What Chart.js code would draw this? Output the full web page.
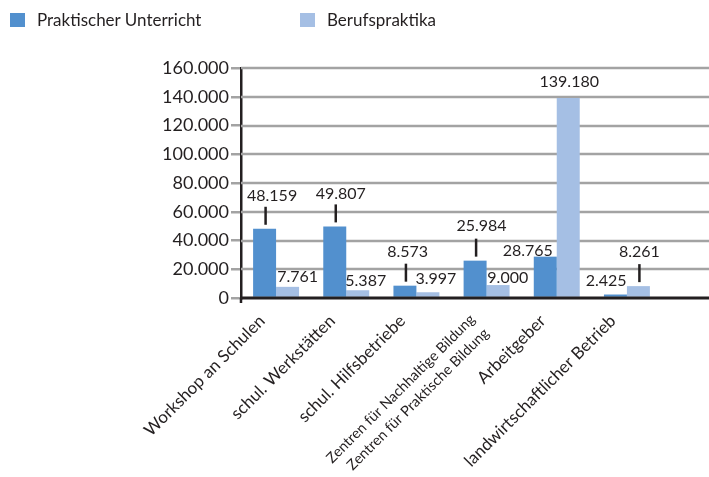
<!DOCTYPE html>
<html>
<head>
<meta charset="utf-8">
<script src="https://cdn.jsdelivr.net/npm/chart.js@4"></script>
<style>
  html, body { margin: 0; padding: 0; background: #fff; }
  #wrap { position: relative; width: 709px; height: 477px; }
  #chart { position: absolute; left: 0; top: 0; }
  .lg { position: absolute; top: 9px; font: 17px Lato, sans-serif; color: #231f20; display: flex; align-items: center; }
  .lg i { display: inline-block; width: 15px; height: 14px; margin-right: 12px; }
</style>
</head>
<body>
<div id="wrap">
  <canvas id="chart" width="709" height="477"></canvas>
  <div class="lg" style="left:10px"><i style="background:#5290ce"></i>Praktischer Unterricht</div>
  <div class="lg" style="left:300px"><i style="background:#a5bfe4"></i>Berufspraktika</div>
</div>
<script>
// Daten
const categories = [
    'Workshop an Schulen',
    'schul. Werkstätten',
    'schul. Hilfsbetriebe',
    ['Zentren für Nachhaltige Bildung', 'Zentren für Praktische Bildung'],
    'Arbeitgeber',
    'landwirtschaftlicher Betrieb'
];
const praktischerUnterricht = [48159, 49807, 8573, 25984, 28765, 2425];
const berufspraktika = [7761, 5387, 3997, 9000, 139180, 8261];
const yTicks = [0, 20000, 40000, 60000, 80000, 100000, 120000, 140000, 160000];

// Label-Verschiebung relativ zur Balkenoberkante: [dx, dy, Linie]
const blueLabelPos = [[7.5, -33, true], [6, -33, true], [2.7, -34, true], [6.4, -34.6, true], [-17.5, -6, false], [-9.3, -13.5, false]];
const lightLabelPos = [[10, -10, false], [8, -9, false], [8, -13, false], [9.7, -7.6, false], [1, -16.3, false], [1, -34, true]];

const BLUE = '#5290ce';
const LIGHT = '#a5bfe4';
const TEXT = '#231f20';
const FONT = 'Lato, sans-serif';

function fmt(v) {
    return String(v).replace(/\B(?=(\d{3})+(?!\d))/g, '.');
}

// Gitterlinien und x-Achse bis zum rechten Rand
const gridPlugin = {
    id: 'gridPlugin',
    beforeDatasetsDraw(chart) {
        const { ctx, chartArea, scales } = chart;
        ctx.save();
        ctx.strokeStyle = '#a3a3a3';
        ctx.lineWidth = 2.5;
        yTicks.forEach(t => {
            if (t === 0) return;
            const y = Math.round(scales.y.getPixelForValue(t));
            ctx.beginPath();
            ctx.moveTo(chartArea.left, y);
            ctx.lineTo(chart.width, y);
            ctx.stroke();
        });
        ctx.restore();
    },
    afterDatasetsDraw(chart) {
        const { ctx, chartArea, scales } = chart;
        const y0 = Math.round(scales.y.getPixelForValue(0));
        ctx.save();
        ctx.strokeStyle = '#231f20';
        ctx.lineWidth = 3;
        ctx.beginPath();
        ctx.moveTo(chartArea.left - 1, y0);
        ctx.lineTo(chart.width, y0);
        ctx.stroke();
        ctx.lineWidth = 2.5;
        ctx.beginPath();
        ctx.moveTo(chartArea.left, y0);
        ctx.lineTo(chartArea.left, y0 + 5);
        ctx.stroke();
        ctx.restore();
    }
};

// Datenbeschriftungen mit Führungslinien
const labelPlugin = {
    id: 'labelPlugin',
    afterDatasetsDraw(chart) {
        const ctx = chart.ctx;
        const posList = [blueLabelPos, lightLabelPos];
        ctx.save();
        ctx.font = '16px ' + FONT;
        ctx.fillStyle = TEXT;
        ctx.strokeStyle = TEXT;
        ctx.lineWidth = 2.5;
        ctx.textAlign = 'center';
        ctx.textBaseline = 'middle';
        chart.data.datasets.forEach((ds, di) => {
            chart.getDatasetMeta(di).data.forEach((bar, i) => {
                const p = posList[di][i];
                ctx.fillText(fmt(ds.data[i]), bar.x + p[0], bar.y + p[1]);
                if (p[2]) {
                    ctx.beginPath();
                    ctx.moveTo(bar.x + 1, bar.y - 4);
                    ctx.lineTo(bar.x + 1, bar.y - 22);
                    ctx.stroke();
                }
            });
        });
        ctx.restore();
    }
};

new Chart(document.getElementById('chart'), {
    type: 'bar',
    data: {
        labels: categories,
        datasets: [
            { label: 'Praktischer Unterricht', data: praktischerUnterricht, backgroundColor: BLUE },
            { label: 'Berufspraktika', data: berufspraktika, backgroundColor: LIGHT }
        ]
    },
    options: {
        responsive: false,
        animation: false,
        categoryPercentage: 0.655,
        barPercentage: 1,
        layout: { padding: { left: 0, top: 68, right: 47, bottom: 0 } },
        plugins: {
            legend: { display: false },
            tooltip: { enabled: false }
        },
        scales: {
            x: {
                grid: { display: false },
                border: { display: false },
                ticks: {
                    color: TEXT,
                    maxRotation: 45,
                    minRotation: 45,
                    autoSkip: false,
                    padding: 4,
                    labelOffset: -14,
                    font: ctx => ({ family: FONT, size: ctx.index === 3 ? 14.5 : 17, lineHeight: 1.35 })
                },
                afterFit: scale => { scale.height = 179; }
            },
            y: {
                min: 0,
                max: 160000,
                afterBuildTicks: scale => { scale.ticks = yTicks.map(v => ({ value: v })); },
                grid: { drawOnChartArea: false, drawTicks: true, tickLength: 10, color: '#a3a3a3', lineWidth: 2.5 },
                border: { display: true, color: '#231f20', width: 2.5 },
                ticks: {
                    color: TEXT,
                    padding: 2,
                    font: { family: FONT, size: 18 },
                    callback: v => fmt(v)
                },
                afterFit: scale => { scale.width = 241; }
            }
        }
    },
    plugins: [gridPlugin, labelPlugin]
});
</script>
</body>
</html>
